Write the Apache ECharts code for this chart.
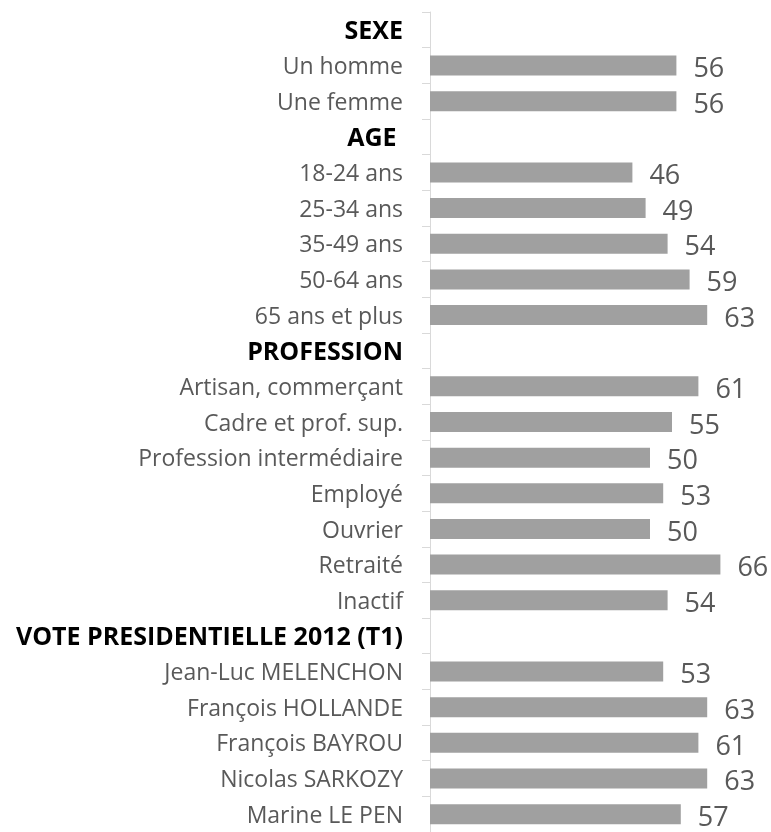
<!DOCTYPE html>
<html><head><meta charset="utf-8">
<script src="https://cdn.jsdelivr.net/npm/echarts@6/dist/echarts.min.js"></script>
<style>html,body{margin:0;padding:0;background:#fff}#c{width:771px;height:832px}</style>
</head><body><div id="c"></div>
<script>
const categories = ['SEXE','Un homme','Une femme','AGE ','18-24 ans','25-34 ans','35-49 ans','50-64 ans','65 ans et plus','PROFESSION','Artisan, commerçant','Cadre et prof. sup.','Profession intermédiaire','Employé','Ouvrier','Retraité','Inactif','VOTE PRESIDENTIELLE 2012 (T1)','Jean-Luc MELENCHON','François HOLLANDE','François BAYROU','Nicolas SARKOZY','Marine LE PEN'];
const headers = ['SEXE','AGE ','PROFESSION','VOTE PRESIDENTIELLE 2012 (T1)'];
const values = [null,56,56,null,46,49,54,59,63,null,61,55,50,53,50,66,54,null,53,63,61,63,57];

const chart = echarts.init(document.getElementById('c'));
chart.setOption({
  animation:false,
  grid:{left:430, top:12, width:308, height:826},
  xAxis:{type:'value', min:0, max:70, show:false},
  yAxis:{type:'category', inverse:true, data:categories,
    axisLine:{show:true, lineStyle:{color:'#d9d9d9', width:1}},
    axisTick:{show:true, length:8, lineStyle:{color:'#d9d9d9'}},
    axisLabel:{margin:27, fontFamily:'Open Sans', fontSize:23, color:'#595959',
      formatter:function(v){return headers.indexOf(v)>=0 ? '{h|'+v+'}' : '{n|'+v+'}';},
      rich:{
        n:{fontFamily:'Open Sans', fontSize:23, color:'#595959', padding:[4,0,0,0]},
        h:{fontFamily:'Open Sans', fontWeight:'bold', fontSize:25, color:'#000', padding:[4,0,0,0]}
      }
    }
  },
  series:[{type:'bar', data:values, barWidth:20,
    itemStyle:{color:'#a0a0a0'},
    label:{show:true, position:'right', distance:17, fontFamily:'Open Sans', fontSize:27, color:'#595959', offset:[0,4]}
  }]
});
</script></body></html>
